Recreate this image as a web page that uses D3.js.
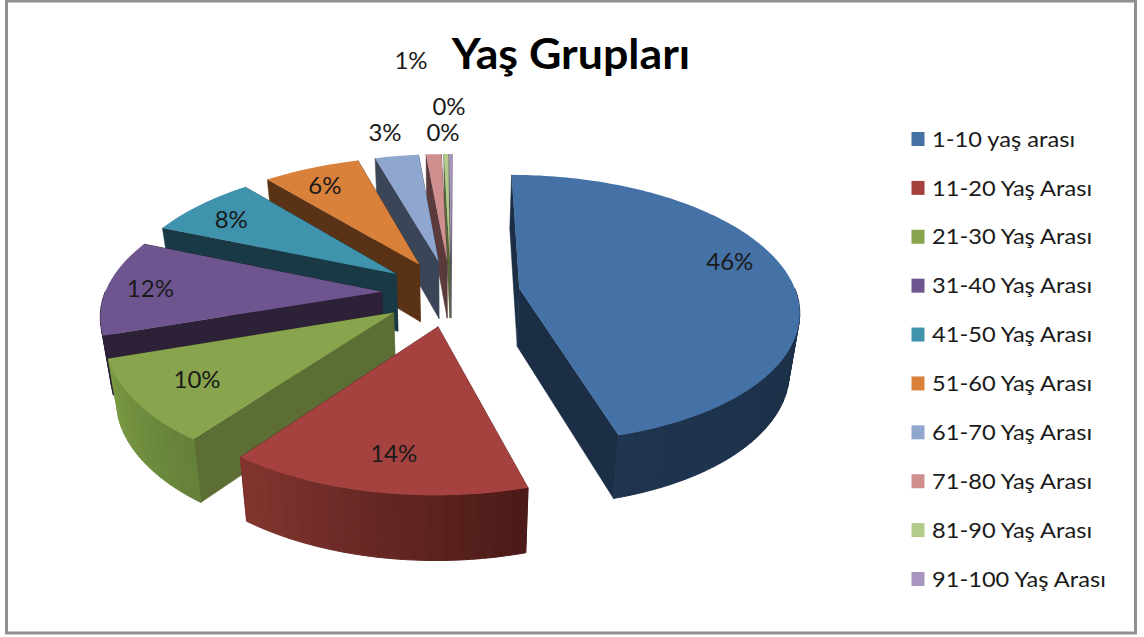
<!DOCTYPE html>
<html><head><meta charset="utf-8">
<script src="https://cdn.jsdelivr.net/npm/d3@7"></script>
<style>html,body{margin:0;padding:0;background:#fff}svg{display:block}text{font-family:Lato,"Open Sans",sans-serif;fill:#1a1a1a}</style>
</head><body><svg id="c" width="1144" height="637"></svg>
<script>
const categories=["1-10 yaş arası","11-20 Yaş Arası","21-30 Yaş Arası","31-40 Yaş Arası","41-50 Yaş Arası","51-60 Yaş Arası","61-70 Yaş Arası","71-80 Yaş Arası","81-90 Yaş Arası","91-100 Yaş Arası"];
const values=[45.5,14.55,9.7,11.4,7.6,6.65,3.0,1.05,0.3,0.2];
const valueLabels=["46%","14%","10%","12%","8%","6%","3%","1%","0%","0%"];
const topColors=["#4471a6","#a5423f","#88a44d","#6f5590","#3f93ad","#d9803a","#8fa6cf","#cf8f8f","#b3cb8a","#a795c0"];
const wallColors=["#1b2e45","#4f1d1b","#5c6e33","#2c2136","#193a45","#5a3216","#3a4557","#5a3a3a","#56663a","#4a4258"];
const outerLeft=["#1f3550","#83352f","#7a9a42","#2c2136","#193a45","#5a3216","#3a4557","#5a3a3a","#56663a","#4a4258"];
const outerRight=["#1a2d44","#4a1a18","#64803a","#2c2136","#193a45","#5a3216","#3a4557","#5a3a3a","#56663a","#4a4258"];
// label placement: radius and fraction across the slice, or a fixed page anchor for the tiny outer ones
const labelRadial=[0.82,0.8,0.78,0.84,0.8,0.8,null,null,null,null];
const labelAcross=[0.46,0.48,0.5,0.48,0.42,0.42,null,null,null,null];
const labelFixed=[null,null,null,null,null,null,[385,133],[411,61],[449,107],[443,133]];

const W=1144,H=637,cx=451,cy=293,Bx=277,A=132,p=0.15,e=0.25,depth=58,q=0.03,startA=0.005;
const svg=d3.select("#c");
svg.append("rect").attr("x",6.5).attr("y",1).attr("width",1129).attr("height",632).attr("fill","#fff").attr("stroke","#8f8f8f").attr("stroke-width",3);

const arcs=d3.pie().sort(null).value(d=>d).startAngle(startA).endAngle(2*Math.PI+startA)(values);
function proj(X,Y,z){const s=1/(1-p*Y),t=s*(1-q*z);return [cx+Bx*X*t,cy+A*Y*t+depth*s*z];}
function pt(d,a,r,z){const m=(d.startAngle+d.endAngle)/2;
  return proj(e*Math.sin(m)+r*Math.sin(a),-(e*Math.cos(m))-r*Math.cos(a),z);}
const line=d3.line();
function arcPts(d,z,from=d.startAngle,to=d.endAngle){const n=Math.max(2,Math.ceil((to-from)/0.02));
  return d3.range(n+1).map(i=>pt(d,from+(to-from)*i/n,1,z));}

const order=[9,8,7,6,5,4,3,2,1,0];
order.forEach(i=>{const d=arcs[i],g=svg.append("g");
  const apex0=pt(d,0,0,0),apex1=pt(d,0,0,1);
  [d.startAngle,d.endAngle].forEach(a=>{
    g.append("path").attr("d",line([apex0,pt(d,a,1,0),pt(d,a,1,1),apex1])+"Z").attr("fill",wallColors[i]).attr("stroke",wallColors[i]).attr("stroke-width",.5);
  });
  const lo=Math.max(d.startAngle,Math.PI/2),hi=Math.min(d.endAngle,3*Math.PI/2);
  if(hi>lo){
    const n=Math.max(1,Math.round((hi-lo)/0.05)),col=d3.interpolateRgb(outerRight[i],outerLeft[i]);
    d3.range(n).forEach(k=>{
      const a0=lo+(hi-lo)*k/n,a1=lo+(hi-lo)*(k+1)/n;
      const pts=[...arcPts(d,0,a0,a1),...arcPts(d,1,a0,a1).reverse()];
      const c=col((k+.5)/n);
      g.append("path").attr("d",line(pts)+"Z").attr("fill",c).attr("stroke",c).attr("stroke-width",1);
    });
  }
  g.append("path").attr("d",line([apex0,...arcPts(d,0)])+"Z").attr("fill",topColors[i]);
});

arcs.forEach((d,i)=>{
  let x,y;
  if(labelFixed[i]){[x,y]=labelFixed[i];}
  else{[x,y]=pt(d,d.startAngle+(d.endAngle-d.startAngle)*labelAcross[i],labelRadial[i],0);}
  svg.append("text").attr("x",x).attr("y",y-2).attr("text-anchor","middle").attr("dominant-baseline","central").attr("font-size",24).text(valueLabels[i]);
});

svg.append("text").attr("transform","translate(571,53) scale(1.065,1)").attr("text-anchor","middle").attr("dominant-baseline","central").attr("font-size",42).attr("font-weight",700).style("fill","#000").text("Yaş Grupları");

const ly=d3.scalePoint().domain(categories).range([139,579]);
categories.forEach((c,i)=>{
  svg.append("rect").attr("x",911.5).attr("y",ly(c)-7).attr("width",13).attr("height",14).attr("fill",topColors[i]);
  svg.append("text").attr("transform",`translate(932,${ly(c)-1}) scale(1.075,1)`).attr("dominant-baseline","central").attr("font-size",22).text(c);
});
</script></body></html>
